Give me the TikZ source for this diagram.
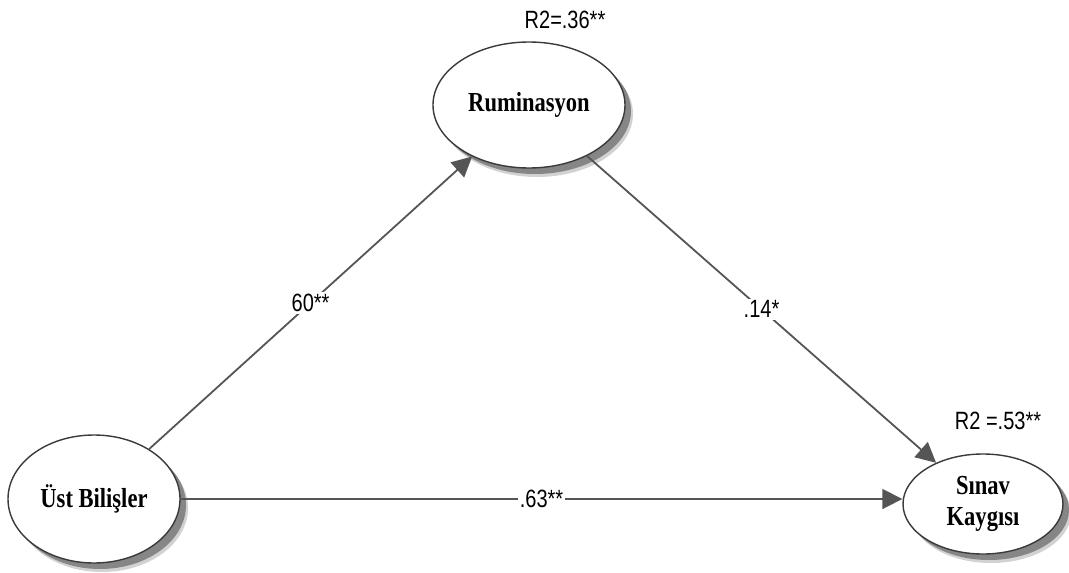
\documentclass[tikz,border=0pt]{standalone}
\usepackage{fontspec}
\setmainfont{Liberation Serif}
\newfontfamily\latentfont[FakeStretch=0.82]{Liberation Serif}
\newfontfamily\coeffont[FakeStretch=0.8]{Liberation Sans}
\usepackage{tikz}
\usetikzlibrary{arrows.meta, shapes.geometric, shadows}
\definecolor{linegray}{HTML}{555555}
\definecolor{rimgray}{HTML}{3A3A3A}
\definecolor{shadegray}{HTML}{7E7E7E}

\begin{document}
\begin{tikzpicture}[
    x=1pt, y=-1pt,
    latent/.style={ellipse, draw=rimgray, fill=white, line width=1.4pt, align=center,
        font=\latentfont\bfseries\fontsize{27.5}{33}\selectfont, inner sep=0pt,
        drop shadow={shadow xshift=8pt, shadow yshift=-9pt, fill=shadegray, opacity=0.35},
        drop shadow={shadow xshift=6pt, shadow yshift=-6pt, fill=shadegray, opacity=0.9}},
    effect/.style={-{Triangle[length=20pt, width=20pt]}, line width=1.8pt, color=linegray},
    coef/.style={font=\coeffont\fontsize{25}{30}\selectfont, fill=white, inner sep=2pt, text=black},
    rsq/.style={font=\coeffont\fontsize{25}{30}\selectfont}
]
\useasboundingbox (0,0) rectangle (1069,573);

% Latent variables
\node[latent, minimum width=192pt, minimum height=126pt] (rum) at (529,105) {Ruminasyon};
\node[latent, minimum width=172pt, minimum height=128pt] (ust) at (94,499) {Üst Bilişler};
\node[latent, minimum width=160pt, minimum height=100pt] (sin) at (983,504) {Sınav\\[-2pt]Kaygısı};

% Explained variance
\node[rsq] (r2rum) at (565,20) {R2=.36**};
\node[rsq] (r2sin) at (998,421) {R2 =.53**};

% Paths
\draw[effect] (ust) -- (rum) node[coef, midway] {60**};
\draw[effect] (rum) -- (sin) node[coef, midway] {.14*};
\draw[effect] (ust.east) -- (ust.east -| sin.west) node[coef, midway] {.63**};
\end{tikzpicture}
\end{document}
